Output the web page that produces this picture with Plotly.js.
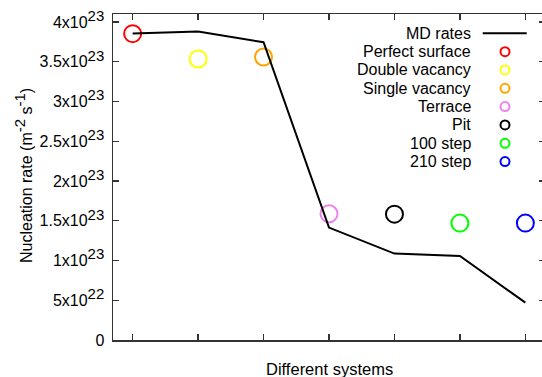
<!DOCTYPE html>
<html>
<head>
<meta charset="utf-8">
<script src="https://cdn.plot.ly/plotly-3.0.1.min.js"></script>
<style>html,body{margin:0;padding:0;overflow:hidden;background:#fff;}</style>
</head>
<body>
<div id="chart"></div>
<script>
// Data
const mdX = [1, 2, 3, 4, 5, 6, 7];
const mdRates = [3.854e23, 3.88e23, 3.745e23, 1.414e23, 1.087e23, 1.058e23, 0.47e23];
const systemNames = ["Perfect surface", "Double vacancy", "Single vacancy", "Terrace", "Pit", "100 step", "210 step"];
const systemX = [1, 2, 3, 4, 5, 6, 7];
const systemRates = [3.853e23, 3.535e23, 3.56e23, 1.587e23, 1.583e23, 1.47e23, 1.47e23];
const systemColors = ["#ff0000", "#ffff00", "#ffa500", "#ee82ee", "#000000", "#00ff00", "#0000ff"];
const yTickVals = [0, 0.5e23, 1e23, 1.5e23, 2e23, 2.5e23, 3e23, 3.5e23, 4e23];
const S = s => '<sup><span style="font-size:15px">' + s + '</span></sup>';
const yTickText = ["0", "5x10" + S("22"), "1x10" + S("23"), "1.5x10" + S("23"), "2x10" + S("23"),
  "2.5x10" + S("23"), "3x10" + S("23"), "3.5x10" + S("23"), "4x10" + S("23")];
const xTitle = "Different systems";
const yTitle = "Nucleation rate (m" + S("-2") + " s" + S("-1") + ")";

const W = 548, H = 377;
const mL = 113, mR = 3, mT = 14, mB = 37;
const pw = W - mL - mR, ph = H - mT - mB;
const px = v => (v - mL) / pw;
const py = v => (H - mB - v) / ph;
const FONT = 'Liberation Sans, Arial, sans-serif';

const traces = [];
// system circles
systemNames.forEach((n, i) => {
  traces.push({
    x: [systemX[i]], y: [systemRates[i]], type: 'scatter', mode: 'markers',
    marker: {symbol: 'circle-open', size: 17, color: systemColors[i], line: {width: 2, color: systemColors[i]}},
    showlegend: false, hoverinfo: 'skip', cliponaxis: false
  });
});
// MD line
traces.push({
  x: mdX, y: mdRates, type: 'scatter', mode: 'lines',
  line: {color: '#000', width: 2}, showlegend: false, hoverinfo: 'skip'
});

// Custom legend (gnuplot style: text right, key on right)
const legendLabels = ["MD rates"].concat(systemNames);
const rowY0 = 33.3, rowDy = 18.33;
const textRight = 472.7, keyX = 505, lineX0 = 482.7, lineX1 = 526.7;
const annotations = [];
legendLabels.forEach((lab, i) => {
  annotations.push({
    xref: 'paper', yref: 'paper', x: px(textRight), y: py(rowY0 + i * rowDy),
    xanchor: 'right', yanchor: 'middle', showarrow: false, text: lab,
    font: {family: FONT, size: 16, color: '#000'}
  });
});
// axis titles
annotations.push({
  xref: 'paper', yref: 'paper', x: px(329.7), y: py(369), xanchor: 'center', yanchor: 'middle',
  showarrow: false, text: xTitle, font: {family: FONT, size: 16.5, color: '#000'}
});
annotations.push({
  xref: 'paper', yref: 'paper', x: px(22.5), y: py(175.5), xanchor: 'center', yanchor: 'middle',
  showarrow: false, text: yTitle, textangle: -90, font: {family: FONT, size: 16, color: '#000'}
});

traces.push({
  x: [px(lineX0), px(lineX1)], y: [py(rowY0), py(rowY0)], xaxis: 'x2', yaxis: 'y2',
  type: 'scatter', mode: 'lines', line: {color: '#000', width: 2}, showlegend: false, hoverinfo: 'skip'
});
traces.push({
  x: systemNames.map(() => px(keyX)), y: systemNames.map((n, i) => py(rowY0 + (i + 1) * rowDy)),
  xaxis: 'x2', yaxis: 'y2', type: 'scatter', mode: 'markers',
  marker: {symbol: 'circle-open', size: 9, color: systemColors, line: {width: 2, color: systemColors}},
  showlegend: false, hoverinfo: 'skip', cliponaxis: false
});

const axColor = '#333';
const layout = {
  width: W, height: H,
  margin: {l: mL, r: mR, t: mT, b: mB, pad: 0},
  paper_bgcolor: '#fff', plot_bgcolor: '#fff',
  font: {family: FONT, size: 16, color: '#000'},
  showlegend: false,
  xaxis: {
    range: [0.7, 7.3], tickvals: mdX, showticklabels: false, ticks: 'inside', ticklen: 6,
    tickwidth: 1.3, tickcolor: axColor, showline: true, linecolor: axColor, linewidth: 1.5,
    mirror: 'ticks', showgrid: false, zeroline: false
  },
  yaxis: {
    range: [0, 4.1e23], tickvals: yTickVals, ticktext: yTickText, ticks: 'inside', ticklen: 6,
    tickwidth: 1.3, tickcolor: axColor, showline: true, linecolor: axColor, linewidth: 1.5,
    mirror: 'ticks', showgrid: false, zeroline: false, tickfont: {size: 16},
    ticklabelstandoff: 4
  },
  xaxis2: {overlaying: 'x', anchor: 'y2', range: [0, 1], visible: false, fixedrange: true},
  yaxis2: {overlaying: 'y', anchor: 'x2', range: [0, 1], visible: false, fixedrange: true},
  annotations: annotations
};
Plotly.newPlot('chart', traces, layout, {displayModeBar: false, staticPlot: true});
</script>
</body>
</html>
